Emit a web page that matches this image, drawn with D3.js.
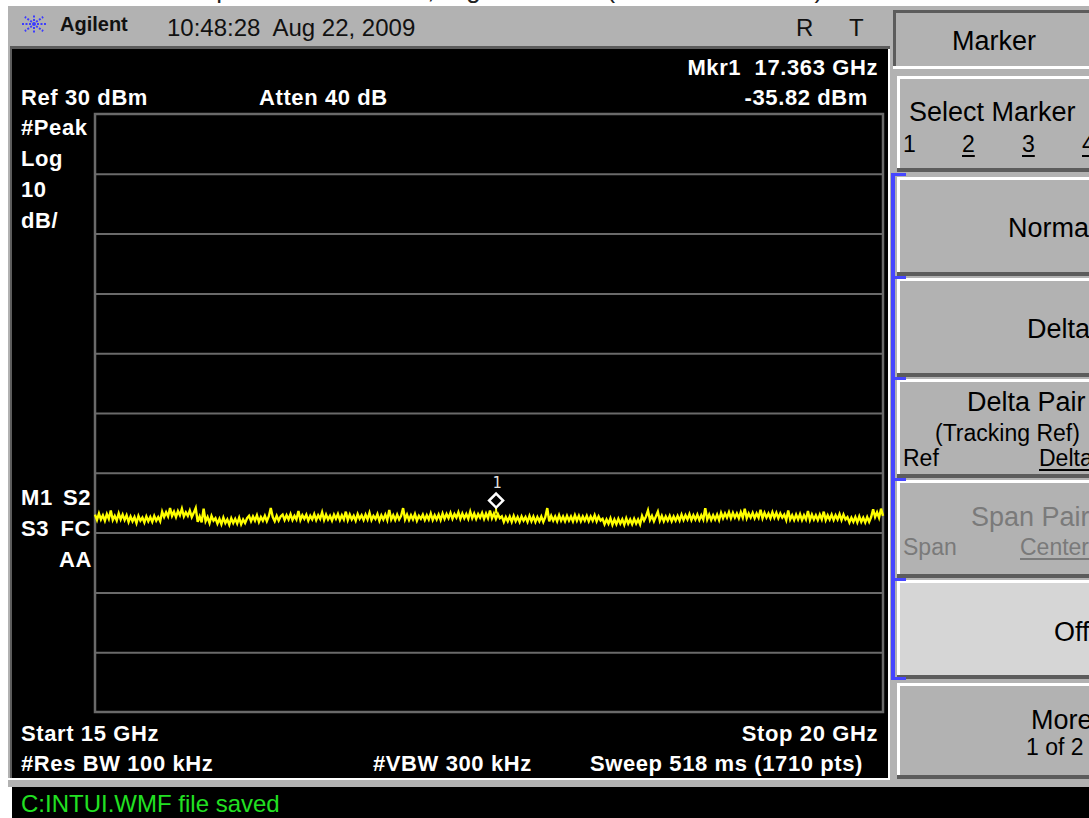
<!DOCTYPE html>
<html><head><meta charset="utf-8">
<script src="https://cdn.jsdelivr.net/npm/d3@7"></script>
<style>
body{margin:0;background:#fff;}
svg{display:block;}
text{font-family:"Liberation Sans",Arial,Helvetica,sans-serif;white-space:pre;}
</style>
</head><body>
<svg id="c" width="1089" height="818"></svg>
<script>
// ---------------- data ----------------
const startGHz = 15, stopGHz = 20;
const refLevelDbm = 30, bottomLevelDbm = -70;
const gridLevels = [20, 10, 0, -10, -20, -30, -40, -50, -60];
const markerPosGHz = 17.545;     // where the marker diamond sits in the picture
const markerAmpDbm = -35.82;
const markerFreqText = "17.363 GHz";
const markerAmpText = "-35.82 dBm";
// trace samples (dBm), evenly spaced across the sweep
const traceDbm = [
 -37.0,-37.9,-36.8,-37.8,-37.1,-38.0,-36.9,-37.7,-36.3,-37.9,-37.2,-38.0,-36.8,-37.8,-37.0,-37.9,-37.1,
 -38.2,-37.3,-38.1,-37.4,-38.4,-37.2,-38.0,-37.5,-38.3,-37.3,-38.1,-37.4,-38.2,-37.2,-38.0,-37.4,-38.1,
 -36.5,-37.4,-36.6,-37.3,-35.9,-37.2,-36.5,-37.4,-36.4,-37.1,-36.0,-37.3,-36.6,-37.2,-36.3,-37.4,-36.7,
 -35.9,-38.2,-37.3,-38.3,-36.0,-38.1,-37.4,-38.4,-37.2,-38.0,
 -37.6,-38.5,-37.7,-38.6,-37.5,-38.4,-37.8,-38.7,-37.6,-38.4,-37.7,-38.5,-37.5,-38.6,-37.8,-38.4,-37.6,
 -37.2,-38.1,-37.3,-38.0,-37.1,-38.2,-37.4,-38.0,-37.2,-38.1,-37.3,-35.9,-37.4,-38.1,-37.2,-38.0,-37.3,
 -37.0,-37.9,-37.1,-37.8,-36.9,-37.9,-37.2,-37.8,-36.4,-37.9,
 -37.1,-37.7,-37.0,-38.0,-37.2,-37.8,-36.9,-37.9,-37.1,-37.7,
 -36.6,-37.9,-37.0,-37.8,-37.2,-38.0,-37.0,-37.7,-36.9,-37.9,
 -37.1,-37.8,-36.5,-37.9,-37.0,-37.8,-37.2,-38.0,-36.9,-37.7,
 -37.1,-37.9,-37.0,-37.8,-36.7,-37.9,-37.2,-37.7,-36.9,-38.0,
 -37.1,-37.8,-37.0,-37.9,-36.2,-37.8,-37.1,-37.9,-37.0,-37.8,
 -37.2,
 -35.9,-37.8,-37.0,-37.9,-37.1,-37.8,-36.9,-38.0,-37.2,-37.7,-37.0,-37.9,-37.1,-37.8,-36.8,-37.9,-37.1,-37.8,-37.0,-37.9,
 -36.8,-37.7,-36.9,-37.6,-36.7,-37.7,-36.9,-37.5,-36.6,-37.7,
 -36.8,-37.6,-36.9,-37.7,-36.5,-37.6,-36.8,-37.7,-36.9,-37.5,
 -36.7,-37.7,-36.8,-37.6,-36.3,-37.6,-36.8,-37.7,-36.9,-37.6,
 -37.3,-38.2,-37.4,-38.1,-37.3,-38.2,-37.2,-38.1,-37.4,-38.2,-37.3,-38.0,-37.4,-38.2,-37.2,-38.1,-37.3,-38.2,-37.4,-38.1,-37.3,-38.2,-37.4,
 -35.9,-38.1,-37.2,-38.0,-37.3,-38.1,-37.1,-38.0,-37.3,-38.1,
 -37.2,-38.0,-37.3,-38.1,-37.1,-38.0,-37.2,-38.1,-37.3,-38.0,
 -37.2,-38.1,-37.3,-38.0,-37.1,-38.1,-37.3,-38.0,
 -37.7,-38.6,-37.8,-38.5,-37.6,-38.7,-37.8,-38.6,-37.7,-38.5,-37.8,-38.7,-37.6,-38.5,-37.8,-38.6,-37.7,-38.5,-37.8,-38.6,
 -37.2,-38.0,-37.3,-36.3,-37.9,-37.2,-38.1,-37.3,-36.5,-38.0,-37.2,-38.1,-37.3,-38.0,-37.2,-38.1,-37.3,-38.0,-37.2,-38.0,
 -37.0,-37.9,-37.1,-37.8,-36.9,-37.9,-37.1,-37.8,-37.0,-37.9,-37.1,-37.8,-35.9,-37.8,-37.0,-37.9,-37.1,-37.8,-37.0,-37.9,
 -36.7,-37.6,-36.8,-37.5,-36.6,-37.6,-36.7,-37.5,-36.8,-37.6,
 -36.6,-37.5,-36.0,-37.6,-36.8,-37.5,-36.7,-37.6,-36.8,-37.5,
 -36.2,-37.6,-36.7,-37.5,-36.8,-37.6,-36.6,-37.5,-36.7,-37.6,
 -36.8,-37.5,
 -37.0,-37.9,-36.3,-37.8,-37.1,-37.9,-37.0,-37.8,-36.9,-37.9,
 -37.1,-37.8,-36.4,-37.9,-37.0,-37.8,-37.1,-37.9,-37.0,-37.8,
 -36.5,-37.9,-37.1,-37.8,-37.0,-37.9,-37.1,-37.8,-36.9,-37.9,
 -37.0,-37.8,
 -37.4,-38.3,-37.5,-38.2,-37.4,-38.3,-37.3,-38.2,-37.5,-38.3,-37.4,-38.2,-37.4,
 -36.1,-37.4,-36.6,-37.5,-36.0,-37.2
];
// annotation texts
const headerTexts = ["Agilent", "10:48:28  Aug 22, 2009", "R", "T"];
const leftLabels = ["#Peak", "Log", "10", "dB/"];
const statusText = "C:INTUI.WMF file saved";

// ---------------- drawing ----------------
const svg = d3.select("#c");
const W = 1089, H = 818;
const GRAY = "#b2b2b2", DARK = "#5c5c5c";

// cut-off caption at top
svg.append("text").attr("x", 66).attr("y", -2).attr("font-size", 26).attr("fill", "#222")
  .text("Conducted Spurious Emissions, High Channel (15 GHz - 20 GHz)");

// outer frame
svg.append("rect").attr("x", 8).attr("y", 6).attr("width", W - 8).attr("height", 781).attr("fill", GRAY);
svg.append("rect").attr("x", 10).attr("y", 46).attr("width", 880).attr("height", 3).attr("fill", DARK);
svg.append("rect").attr("x", 10).attr("y", 46).attr("width", 2).attr("height", 732).attr("fill", DARK);
// display area
svg.append("rect").attr("x", 12).attr("y", 49).attr("width", 876).attr("height", 729).attr("fill", "#000");
svg.append("rect").attr("x", 888).attr("y", 49).attr("width", 2).attr("height", 731).attr("fill", "#fff");
svg.append("rect").attr("x", 8).attr("y", 778).attr("width", W - 8).attr("height", 2).attr("fill", "#fff");
// status bar
svg.append("rect").attr("x", 12).attr("y", 787).attr("width", W - 12).attr("height", H - 787).attr("fill", "#000");
svg.append("text").attr("x", 21).attr("y", 812).attr("font-size", 24).attr("fill", "#22e022").text(statusText);

// Agilent logo (starburst)
const logo = svg.append("g").attr("transform", "translate(34,24)");
d3.range(8).forEach(i => {
  const a = i * Math.PI / 4;
  logo.append("line").attr("x1", Math.cos(a) * 3).attr("y1", Math.sin(a) * 3)
    .attr("x2", Math.cos(a) * 13).attr("y2", Math.sin(a) * 10)
    .attr("stroke", "#3c3cff").attr("stroke-width", 2).attr("stroke-dasharray", "2,1.5");
});
logo.append("circle").attr("r", 2).attr("fill", "#3c3cff");

// header texts
svg.append("text").attr("x", 60).attr("y", 31).attr("font-size", 20).attr("font-weight", "bold")
  .attr("fill", "#111").text(headerTexts[0]);
svg.append("text").attr("x", 167).attr("y", 36).attr("font-size", 24).attr("fill", "#111").text(headerTexts[1]);
svg.append("text").attr("x", 796).attr("y", 36).attr("font-size", 24).attr("fill", "#111").text(headerTexts[2]);
svg.append("text").attr("x", 849).attr("y", 36).attr("font-size", 24).attr("fill", "#111").text(headerTexts[3]);

// scales
const x = d3.scaleLinear().domain([startGHz, stopGHz]).range([95, 883]);
const y = d3.scaleLinear().domain([bottomLevelDbm, refLevelDbm]).range([712, 114]);
const idx = d3.scaleLinear().domain([0, traceDbm.length - 1]).range([startGHz, stopGHz]);

// grid (horizontal only)
const grid = svg.append("g").attr("transform", "translate(95,0)")
  .call(d3.axisLeft(y).tickValues(gridLevels).tickSize(-788).tickFormat(""));
grid.select(".domain").remove();
grid.selectAll("line").attr("stroke", "#6a6a6a").attr("stroke-width", 2);
svg.append("rect").attr("x", 95).attr("y", 114).attr("width", 788).attr("height", 598)
  .attr("fill", "none").attr("stroke", "#6a6a6a").attr("stroke-width", 2.5);

// trace
const line = d3.line().x((d, i) => x(idx(i))).y(d => y(d));
svg.append("path").datum(traceDbm).attr("d", line).attr("fill", "none")
  .attr("stroke", "#ffff00").attr("stroke-width", 2.4).attr("stroke-linejoin", "miter");

// marker
const mx = x(markerPosGHz), my = y(markerAmpDbm);
svg.append("line").attr("x1", mx).attr("x2", mx).attr("y1", my).attr("y2", my + 6)
  .attr("stroke", "#ffff00").attr("stroke-width", 2);
svg.append("path").attr("d", `M${mx},${my - 14} L${mx + 7},${my - 7} L${mx},${my} L${mx - 7},${my - 7} Z`)
  .attr("fill", "#000").attr("stroke", "#fff").attr("stroke-width", 2.5);
svg.append("text").attr("x", mx + 1).attr("y", my - 20).attr("text-anchor", "middle")
  .style("font-family", "'DejaVu Sans Mono', monospace")
  .attr("font-size", 15).attr("fill", "#e0e0e0").text("1");

// display annotations (white bold)
function wtext(t, tx, ty, anchor) {
  svg.append("text").attr("x", tx).attr("y", ty).attr("text-anchor", anchor || "start")
    .attr("font-size", 22).attr("font-weight", "bold").attr("letter-spacing", 0.6)
    .attr("fill", "#fff").text(t);
}
wtext("Mkr1  " + markerFreqText, 878, 75, "end");
wtext(markerAmpText, 868, 105, "end");
wtext("Ref " + refLevelDbm + " dBm", 21, 105);
wtext("Atten 40 dB", 259, 105);
[135, 166, 197, 228].forEach((yy, i) => wtext(leftLabels[i], 21, yy));
wtext("M1", 21, 505); wtext("S2", 91, 505, "end");
wtext("S3", 21, 536); wtext("FC", 91, 536, "end");
wtext("AA", 92, 567, "end");
wtext("Start " + startGHz + " GHz", 21, 741);
wtext("Stop " + stopGHz + " GHz", 878, 741, "end");
wtext("#Res BW 100 kHz", 21, 771);
wtext("#VBW 300 kHz", 373, 771);
wtext("Sweep 518 ms (1710 pts)", 863, 771, "end");

// ---------------- softkey panel ----------------
svg.append("rect").attr("x", 890).attr("y", 6).attr("width", W - 890).attr("height", 781).attr("fill", GRAY);
// title key
svg.append("rect").attr("x", 893).attr("y", 10).attr("width", 200).attr("height", 57).attr("fill", GRAY);
svg.append("rect").attr("x", 893).attr("y", 10).attr("width", 200).attr("height", 3).attr("fill", DARK);
svg.append("rect").attr("x", 893).attr("y", 10).attr("width", 3).attr("height", 57).attr("fill", DARK);
svg.append("rect").attr("x", 893).attr("y", 66).attr("width", 200).attr("height", 3).attr("fill", "#fff");

const keys = [
  [76, 172, GRAY], [177, 276, GRAY], [278, 377, GRAY], [379, 478, GRAY],
  [480, 578, GRAY], [580, 679, "#d6d6d6"], [683, 779, GRAY]
];
keys.forEach(([y0, y1, bg]) => {
  svg.append("rect").attr("x", 897).attr("y", y0).attr("width", 200).attr("height", y1 - y0).attr("fill", bg);
  svg.append("rect").attr("x", 897).attr("y", y0).attr("width", 200).attr("height", 3).attr("fill", "#fff");
  svg.append("rect").attr("x", 897).attr("y", y0).attr("width", 3).attr("height", y1 - y0).attr("fill", "#fff");
  svg.append("rect").attr("x", 897).attr("y", y1 - 4).attr("width", 200).attr("height", 4).attr("fill", DARK);
});
// blue bracket
const BLUE = "#4646ff";
svg.append("rect").attr("x", 891).attr("y", 173).attr("width", 4).attr("height", 507).attr("fill", BLUE);
[173, 276, 377, 478, 578, 677].forEach(yy =>
  svg.append("rect").attr("x", 891).attr("y", yy).attr("width", 15).attr("height", 3).attr("fill", BLUE));

function ktext(t, tx, ty, size, color, underline) {
  const el = svg.append("text").attr("x", tx).attr("y", ty).attr("font-size", size)
    .attr("fill", color || "#000").text(t);
  if (underline) {
    const w = el.node().getComputedTextLength();
    svg.append("rect").attr("x", tx).attr("y", ty + 3).attr("width", w).attr("height", 2).attr("fill", color || "#000");
  }
}
ktext("Marker", 952, 50, 27);
ktext("Select Marker", 909, 121, 27);
ktext("1", 903, 152, 23);
ktext("2", 962, 152, 23, "#000", true);
ktext("3", 1022, 152, 23, "#000", true);
ktext("4", 1082, 152, 23, "#000", true);
ktext("Normal", 1008, 237, 27);
ktext("Delta", 1027, 338, 27);
ktext("Delta Pair", 967, 411, 27);
ktext("(Tracking Ref)", 935, 441, 23);
ktext("Ref", 903, 466, 23);
ktext("Delta", 1039, 466, 23, "#000", true);
ktext("Span Pair", 971, 526, 27, "#7a7a7a");
ktext("Span", 903, 555, 23, "#7a7a7a");
ktext("Center", 1020, 555, 23, "#7a7a7a", true);
ktext("Off", 1054, 641, 27);
ktext("More", 1031, 729, 27);
ktext("1 of 2", 1026, 755, 23);
</script>
</body></html>
